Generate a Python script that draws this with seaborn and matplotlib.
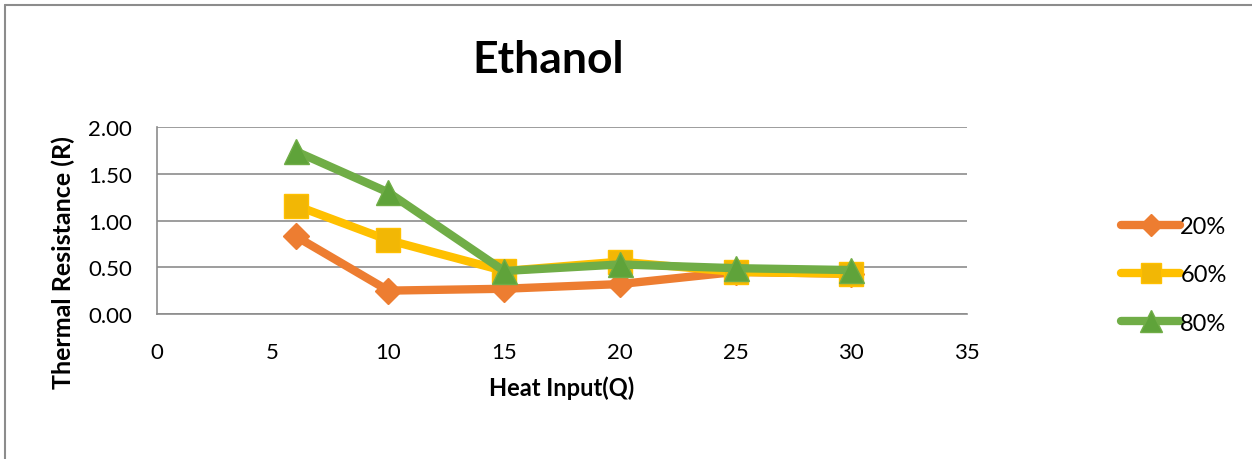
import numpy as np
import pandas as pd
import matplotlib.pyplot as plt
import seaborn as sns
from matplotlib.lines import Line2D

heat_input = [6, 10, 15, 20, 25, 30]
r_20 = [0.83, 0.25, 0.27, 0.32, 0.45, 0.43]
r_60 = [1.16, 0.79, 0.46, 0.56, 0.45, 0.43]
r_80 = [1.74, 1.30, 0.46, 0.53, 0.49, 0.47]
series_names = ["20%", "60%", "80%"]

colors = ["#ED7D31", "#FFC000", "#70AD47"]
marker_faces = ["#ED7D31", "#F2B705", "#5FA33A"]
markers = ["D", "s", "^"]
msizes = [13, 17, 18]

df = pd.DataFrame({"Q": heat_input * 3,
                   "R": r_20 + r_60 + r_80,
                   "series": [s for s in series_names for _ in heat_input]})

sns.set_style("white")
plt.rcParams["font.family"] = ["Lato", "DejaVu Sans"]
plt.rcParams["text.color"] = "black"

fig = plt.figure(figsize=(12.52, 4.6), dpi=100)
ax = fig.add_axes([157 / 1252, 1 - 315 / 460, 810 / 1252, 187 / 460])

for name, c, mf, m, ms in zip(series_names, colors, marker_faces, markers, msizes):
    sub = df[df["series"] == name]
    sns.lineplot(data=sub, x="Q", y="R", ax=ax, color=c, linewidth=6,
                 marker=m, markersize=ms, markerfacecolor=mf,
                 markeredgecolor=c, markeredgewidth=1, legend=False,
                 solid_capstyle="round", solid_joinstyle="round")

ax.set_xlim(0, 35)
ax.set_ylim(0, 2)
ax.set_xticks(range(0, 36, 5))
ax.set_yticks(np.arange(0, 2.01, 0.5))
ax.set_yticklabels([f"{v:.2f}" for v in np.arange(0, 2.01, 0.5)])
ax.yaxis.grid(True, color="#8c8c8c", linewidth=1.2)
ax.xaxis.grid(False)
for side in ["top", "right"]:
    ax.spines[side].set_visible(False)
for side in ["left", "bottom"]:
    ax.spines[side].set_color("#8c8c8c")
    ax.spines[side].set_linewidth(1.2)
ax.tick_params(axis="both", which="both", direction="out", length=6,
               width=1.2, color="#8c8c8c", labelsize=16, labelcolor="black")
ax.tick_params(axis="x", pad=14)
ax.tick_params(axis="y", pad=12)

ax.set_xlabel("Heat Input(Q)", fontsize=17, fontweight="bold", labelpad=10,
              color="black")
ax.set_ylabel("Thermal Resistance (R)", fontsize=18, fontweight="bold",
              color="black")
ax.yaxis.set_label_coords((75 - 157) / 810, (315 - 263) / 187)
fig.text(548 / 1252, 1 - 60 / 460, "Ethanol", fontsize=32, fontweight="bold",
         ha="center", va="center")

handles = [Line2D([], [], color=c, linewidth=6, marker=m, markersize=ms * 0.85,
                  markerfacecolor=mf, markeredgecolor=c, solid_capstyle="round")
           for c, mf, m, ms in zip(colors, marker_faces, markers, msizes)]
fig.legend(handles, series_names, loc="center left",
           bbox_to_anchor=(1100 / 1252, 1 - 276 / 460), frameon=False,
           fontsize=17, handlelength=2.5, handletextpad=0.0, labelspacing=1.15)

fig.add_artist(Line2D([5 / 1252, 5 / 1252], [0, 1 - 6 / 460],
                      color="#8c8c8c", linewidth=1.5))
fig.add_artist(Line2D([5 / 1252, 1], [1 - 6 / 460, 1 - 6 / 460],
                      color="#8c8c8c", linewidth=1.5))

fig.savefig("out.png", dpi=100)
